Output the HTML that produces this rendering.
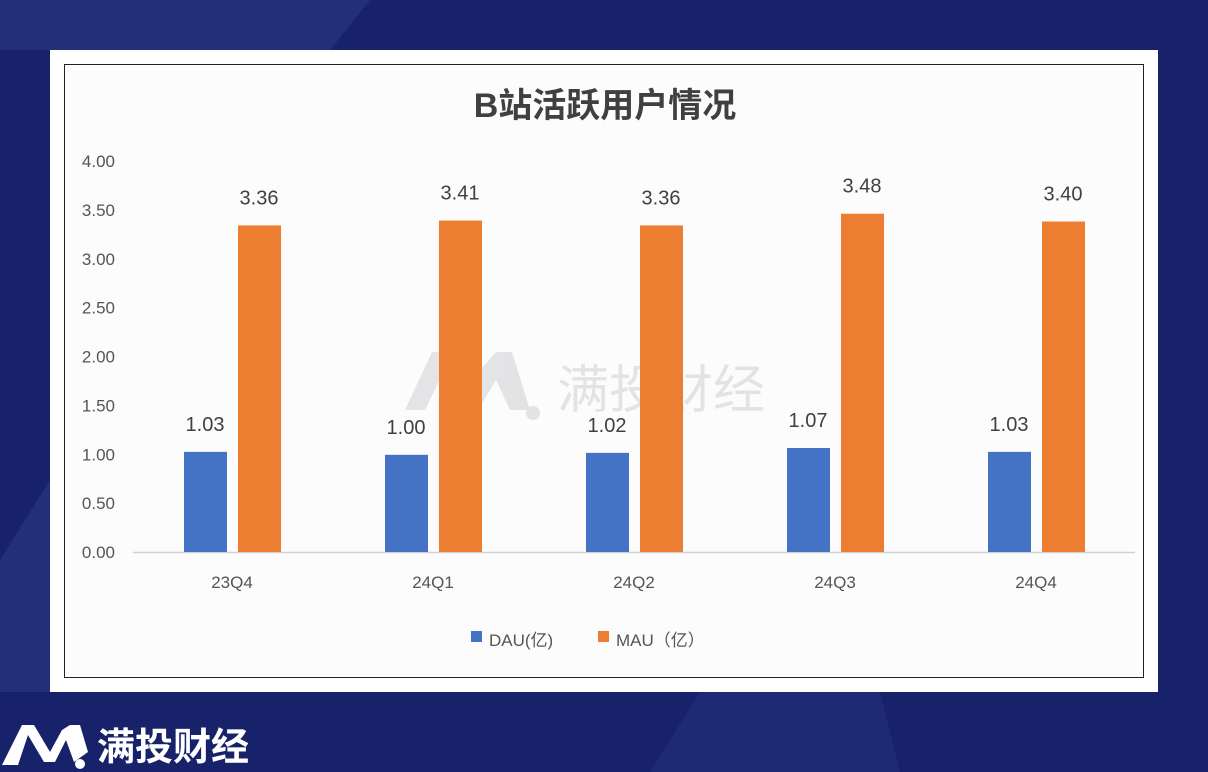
<!DOCTYPE html>
<html><head><meta charset="utf-8"><style>
body{margin:0;width:1208px;height:772px;overflow:hidden;background:#17226a;font-family:"Liberation Sans","Noto Sans CJK SC",sans-serif;position:relative}
</style></head><body>
<svg width="1208" height="772" style="position:absolute;left:0;top:0">
<polygon points="0,0 370,0 330,50 0,50" fill="#22307a"/>
<polygon points="0,560 50,480 50,692 0,692" fill="#22307a"/>
<polygon points="700,692 880,692 900,772 650,772" fill="#1e2a74"/>
<rect x="50" y="50" width="1108" height="642" fill="#fff"/>
<rect x="64.5" y="64.5" width="1079" height="613" fill="#fcfcfc" stroke="#222" stroke-width="1"/>
<text x="605" y="117" text-anchor="middle" font-size="34" font-weight="bold" fill="#404040">B站活跃用户情况</text>
<g opacity="0.13">
<path d="M405,410 L432,352 L452,352 L470,385 L480,370 L496,352 L512,352 L530,410 L510,410 L496,380 L478,410 L462,410 L442,375 L425,410Z" fill="#445"/>
<circle cx="533" cy="413" r="7" fill="#445"/>
<text x="557" y="408" font-size="52" fill="#445">满投财经</text>
</g>
<g id="chart"></g>
<g>
<rect x="471" y="631" width="11" height="11" fill="#4472c4"/>
<text x="489" y="646" font-size="17" fill="#555">DAU(亿)</text>
<rect x="598" y="631" width="11" height="11" fill="#ed7d31"/>
<text x="616" y="646" font-size="17" fill="#555">MAU（亿）</text>
</g>
<g>
<path d="M2,765 L22,725 L34,725 L50,752 L62,730 L70,725 L80,725 L88,752 L74,762 L66,740 L55,762 L44,762 L28,735 L18,765Z" fill="#fff"/>
<circle cx="80" cy="764" r="5" fill="#fff"/>
<text x="97" y="760" font-size="38" font-weight="bold" fill="#fff">满投财经</text>
</g>
</svg>
<script>
const categories=["23Q4","24Q1","24Q2","24Q3","24Q4"];
const dau=[1.03,1.00,1.02,1.07,1.03];
const mau=[3.36,3.41,3.36,3.48,3.40];
const ticks=[0,0.5,1,1.5,2,2.5,3,3.5,4];
const NS="http://www.w3.org/2000/svg";
const g=document.getElementById('chart');
const y=v=>552-v*97.2;
const xc=i=>232+i*201;
function mk(t,a,txt){const e=document.createElementNS(NS,t);for(const k in a)e.setAttribute(k,a[k]);if(txt!==undefined)e.textContent=txt;g.appendChild(e);return e;}
ticks.forEach(t=>{const e=mk('text',{x:115,y:552-t*97.75+6,'text-anchor':'end','font-size':17,fill:'#555'},t.toFixed(2));

});
const ax=mk('line',{x1:133,x2:1135,y1:552.5,y2:552.5,stroke:'#d0d0d0','stroke-width':1.5});


categories.forEach((c,i)=>{
const l=mk('text',{x:xc(i),y:588,'text-anchor':'middle','font-size':17,fill:'#555'},c);


const b1=mk('rect',{x:xc(i)-48,y:y(dau[i]),width:43,height:552-y(dau[i]),fill:'#4472c4'});


const b2=mk('rect',{x:xc(i)+6,y:y(mau[i]),width:43,height:552-y(mau[i]),fill:'#ed7d31'});


const t1=mk('text',{x:xc(i)-27,y:y(dau[i])-21,'text-anchor':'middle','font-size':20,fill:'#404040'},dau[i].toFixed(2));


const t2=mk('text',{x:xc(i)+27,y:y(mau[i])-21,'text-anchor':'middle','font-size':20,fill:'#404040'},mau[i].toFixed(2));


});
</script>
</body></html>
